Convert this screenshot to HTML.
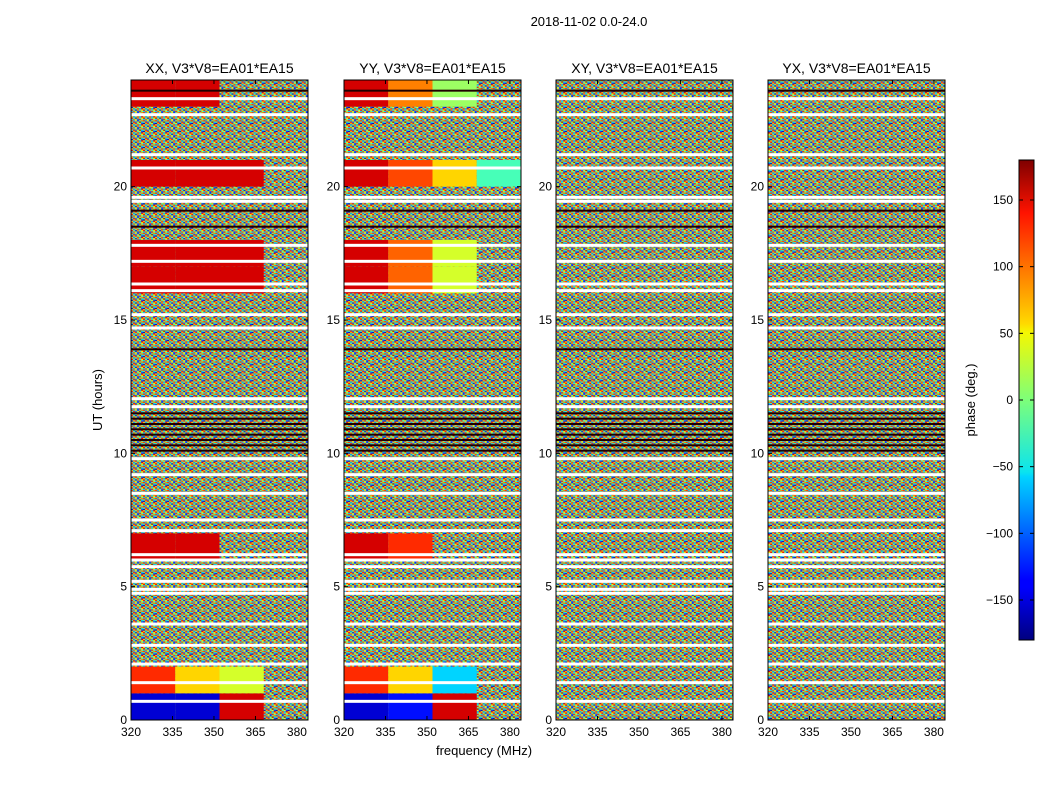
<!DOCTYPE html>
<html><head><meta charset="utf-8">
<style>
body{margin:0;background:#fff;width:1050px;height:800px;overflow:hidden;font-family:"Liberation Sans","DejaVu Sans",sans-serif;}
svg text{font-family:"Liberation Sans","DejaVu Sans",sans-serif;}
</style></head>
<body>
<svg id="chart" width="1050" height="800" xmlns="http://www.w3.org/2000/svg">
<defs>
<pattern id="noise" width="18" height="12" patternUnits="userSpaceOnUse" patternTransform="translate(131 80) scale(0.67)">
<rect width="18" height="12" fill="#7fbf7f"/>
<rect x="0" y="0" width="3" height="2" fill="#ff3000"/><rect x="3" y="0" width="3" height="2" fill="#00c0ff"/><rect x="6" y="0" width="3" height="2" fill="#ffe000"/><rect x="9" y="0" width="3" height="2" fill="#0020ff"/><rect x="12" y="0" width="3" height="2" fill="#60ff90"/><rect x="15" y="0" width="3" height="2" fill="#ff8000"/>
<rect x="0" y="2" width="3" height="2" fill="#40ffb0"/><rect x="3" y="2" width="3" height="2" fill="#ff1000"/><rect x="6" y="2" width="3" height="2" fill="#0060ff"/><rect x="9" y="2" width="3" height="2" fill="#d0ff20"/><rect x="12" y="2" width="3" height="2" fill="#a00000"/><rect x="15" y="2" width="3" height="2" fill="#00e0f0"/>
<rect x="0" y="4" width="3" height="2" fill="#0000c0"/><rect x="3" y="4" width="3" height="2" fill="#ffb000"/><rect x="6" y="4" width="3" height="2" fill="#ff2000"/><rect x="9" y="4" width="3" height="2" fill="#30ffc0"/><rect x="12" y="4" width="3" height="2" fill="#ffff00"/><rect x="15" y="4" width="3" height="2" fill="#0040ff"/>
<rect x="0" y="6" width="3" height="2" fill="#ffd000"/><rect x="3" y="6" width="3" height="2" fill="#0090ff"/><rect x="6" y="6" width="3" height="2" fill="#90ff60"/><rect x="9" y="6" width="3" height="2" fill="#ff4000"/><rect x="12" y="6" width="3" height="2" fill="#00b0ff"/><rect x="15" y="6" width="3" height="2" fill="#e00000"/>
<rect x="0" y="8" width="3" height="2" fill="#ff0000"/><rect x="3" y="8" width="3" height="2" fill="#50ffa0"/><rect x="6" y="8" width="3" height="2" fill="#0010e0"/><rect x="9" y="8" width="3" height="2" fill="#ff9000"/><rect x="12" y="8" width="3" height="2" fill="#20f0e0"/><rect x="15" y="8" width="3" height="2" fill="#ffe800"/>
<rect x="0" y="10" width="3" height="2" fill="#00d0ff"/><rect x="3" y="10" width="3" height="2" fill="#ff6000"/><rect x="6" y="10" width="3" height="2" fill="#b0ff40"/><rect x="9" y="10" width="3" height="2" fill="#0050ff"/><rect x="12" y="10" width="3" height="2" fill="#ff2000"/><rect x="15" y="10" width="3" height="2" fill="#70ff80"/>
</pattern>
<linearGradient id="jet" x1="0" y1="1" x2="0" y2="0">
<stop offset="0" stop-color="#00007f"/><stop offset="0.11" stop-color="#0000ff"/><stop offset="0.125" stop-color="#0000ff"/><stop offset="0.34" stop-color="#00d4ff"/><stop offset="0.35" stop-color="#0ae4ef"/><stop offset="0.5" stop-color="#7dff7a"/><stop offset="0.64" stop-color="#f4f802"/><stop offset="0.66" stop-color="#ffd800"/><stop offset="0.89" stop-color="#ff1300"/><stop offset="1" stop-color="#7f0000"/>
</linearGradient>
</defs>
<text x="589" y="26" font-size="13" text-anchor="middle">2018-11-02 0.0-24.0</text>
<text x="484" y="755" font-size="13" text-anchor="middle">frequency (MHz)</text>
<text x="102" y="400" font-size="13" text-anchor="middle" transform="rotate(-90 102 400)">UT (hours)</text>
<g id="panels"></g>
<g id="cbar"></g>
</svg>
<script>
const panelTitles = ["XX, V3*V8=EA01*EA15","YY, V3*V8=EA01*EA15","XY, V3*V8=EA01*EA15","YX, V3*V8=EA01*EA15"];
const xTicks = [320,335,350,365,380];
const yTicks = [0,5,10,15,20];
const cbarTicks = [-150,-100,-50,0,50,100,150];
const freqBins = [320,336,352,368,384];
// phase grid: per panel, rows for hour 0..23, values per freq bin (null = noisy)
const gridXX = {0:[-150,-150,150,null],1:[120,60,30,null],6:[150,150,null,null],16:[150,150,150,null],17:[150,150,150,null],20:[150,150,150,null],23:[150,150,null,null]};
const gridYY = {0:[-150,-130,150,null],1:[120,60,-60,null],6:[150,120,null,null],16:[150,100,30,null],17:[150,100,30,null],20:[150,110,60,-20],23:[150,90,10,null]};
const gridXY = {};
const gridYX = {};
const grids = [gridXX,gridYY,gridXY,gridYX];
const gapHours = [0.7,1.4,2.1,2.8,3.6,4.75,4.9,5.2,5.75,6.0,6.2,7.1,7.5,8.5,9.2,9.8,11.75,12.05,14.7,15.2,16.1,16.35,17.2,17.8,19.45,19.6,20.7,21.2,22.7,23.3];
const darkHours = [10.1,10.3,10.5,10.7,10.9,11.1,11.3,11.5,13.9,18.5,19.1,23.6];

const NS="http://www.w3.org/2000/svg";
const panelX=[131,344,556,768], PW=177, PT=80, PB=720;
function yS(h){return PB-(h/24)*(PB-PT);}
function xS(px,f){return px+(f-320)/(384-320)*PW;}
function jet(v){let t=(v+180)/360;function c(x){return Math.max(0,Math.min(1,x));}
 const r=c(1.5-Math.abs(4*t-3)),g=c(1.5-Math.abs(4*t-2)),b=c(1.5-Math.abs(4*t-1));
 return `rgb(${Math.round(r*255)},${Math.round(g*255)},${Math.round(b*255)})`;}
function mk(tag,attrs,parent){const e=document.createElementNS(NS,tag);for(const k in attrs)e.setAttribute(k,attrs[k]);parent.appendChild(e);return e;}
const G=document.getElementById('panels');
panelX.forEach((px,pi)=>{
 const g=mk('g',{},G);
 
 
 const bg=mk('rect',{x:px,y:PT,width:PW,height:PB-PT,fill:'url(#noise)'},g);
 
 
 const grid=grids[pi];
 for(const h in grid){grid[h].forEach((v,ci)=>{if(v===null)return;
  const x0=xS(px,freqBins[ci]),x1=xS(px,freqBins[ci+1]);
  const r=mk('rect',{x:x0,y:yS(+h+1),width:x1-x0,height:yS(+h)-yS(+h+1),fill:jet(v)},g);
  
  });}
 darkHours.forEach(h=>{const r=mk('rect',{x:px,y:yS(h)-1,width:PW,height:2,fill:'#200000'},g);
  
  });
 gapHours.forEach(h=>{const r=mk('rect',{x:px,y:yS(h)-1.5,width:PW,height:3,fill:'#fff'},g);
  
  });
 const fr=mk('rect',{x:px,y:PT,width:PW,height:PB-PT,fill:'none',stroke:'#000','stroke-width':1},g);
 
 
 const t=mk('text',{x:px+PW/2,y:PT-7,'font-size':14,'text-anchor':'middle'},g);t.textContent=panelTitles[pi];
 
 
 xTicks.forEach(f=>{const x=xS(px,f);mk('line',{x1:x,x2:x,y1:PB,y2:PB-4,stroke:'#000'},g);mk('line',{x1:x,x2:x,y1:PT,y2:PT+4,stroke:'#000'},g);
  const l=mk('text',{x:x,y:PB+16,'font-size':12,'text-anchor':'middle'},g);l.textContent=f;
  
  });
 yTicks.forEach(h=>{const y=yS(h);mk('line',{x1:px,x2:px+4,y1:y,y2:y,stroke:'#000'},g);mk('line',{x1:px+PW,x2:px+PW-4,y1:y,y2:y,stroke:'#000'},g);
  const l=mk('text',{x:px-4,y:y+4,'font-size':12,'text-anchor':'end'},g);l.textContent=h;
  
  });
});
const C=document.getElementById('cbar');
const CX=1019,CW=15,CT=160,CB=640;
const cr=mk('rect',{x:CX,y:CT,width:CW,height:CB-CT,fill:'url(#jet)',stroke:'#000'},C);


function cy(v){return CB-(v+180)/360*(CB-CT);}
cbarTicks.forEach(v=>{const y=cy(v);mk('line',{x1:CX+CW-4,x2:CX+CW,y1:y,y2:y,stroke:'#000'},C);mk('line',{x1:CX,x2:CX+4,y1:y,y2:y,stroke:'#000'},C);
 const l=mk('text',{x:1013,y:y+4,'font-size':12,'text-anchor':'end'},C);l.textContent=v<0?'\u2212'+(-v):v;
 
 });
const ct=mk('text',{x:975,y:400,'font-size':13,'text-anchor':'middle',transform:'rotate(-90 975 400)'},C);ct.textContent='phase (deg.)';


</script>
</body></html>
